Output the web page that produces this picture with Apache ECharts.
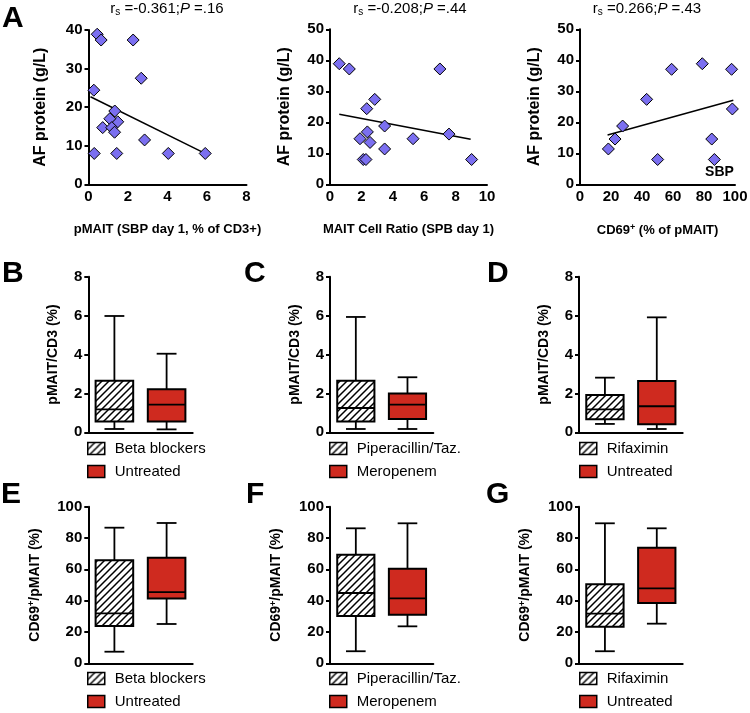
<!DOCTYPE html>
<html><head><meta charset="utf-8">
<script src="https://cdn.jsdelivr.net/npm/echarts@6/dist/echarts.min.js"></script>
<style>html,body{margin:0;padding:0;background:#fff}#c{width:750px;height:713px}</style>
</head><body><div id="c"></div>
<script>
// ---------- DATA ----------
// Panel A (scatter): AF protein vs x-variable
const a1X = [0.44,0.64,2.26,2.67,0.27,1.33,1.48,1.08,0.72,1.18,1.32,2.84,0.29,1.43,4.04,5.91];
const a1Y = [38.9,37.4,37.4,27.5,24.4,19.0,16.2,17.0,14.7,14.7,13.5,11.5,8.0,8.0,8.0,8.0];
const a1Fit = [[0.1,22.7],[5.9,8.0]];
const a2X = [0.59,1.23,7.0,2.85,2.34,3.48,2.38,7.58,1.91,5.29,2.55,3.48,2.12,2.29,9.02];
const a2Y = [38.9,37.2,37.2,27.4,24.4,18.8,16.9,16.2,14.7,14.7,13.5,11.4,8.0,8.0,8.0];
const a2Fit = [[0.59,22.6],[8.96,14.5]];
const a3X = [18.3,22.6,27.5,43.0,50.1,59.1,78.9,85.0,86.7,97.8,98.3];
const a3Y = [11.4,14.6,18.8,27.4,8.0,37.1,38.9,14.6,8.0,37.1,24.3];
const a3Fit = [[17.8,15.9],[98.9,27.1]];
const a3Note = {text:'SBP', x:90, y:4};
const statTexts = ['r{sub|s} =-0.361;{it|P} =.16','r{sub|s} =-0.208;{it|P} =.44','r{sub|s} =0.266;{it|P} =.43'];
const aXNames = ['pMAIT (SBP day 1, % of CD3+)','MAIT Cell Ratio (SPB day 1)','CD69{sup|+} (% of pMAIT)'];
const aYName = 'AF protein (g/L)';
const aXMax = [8,10,100], aXInt = [2,2,20], aYMax = [40,50,50];

// Box plots: [min, Q1, median, Q3, max]
const namesBE = ['Beta blockers','Untreated'];
const namesCF = ['Piperacillin/Taz.','Meropenem'];
const namesDG = ['Rifaximin','Untreated'];
const bVals = [[0.17,0.55,1.18,2.65,5.98],[0.15,0.55,1.42,2.21,4.04]];
const cVals = [[0.17,0.55,1.25,2.65,5.93],[0.17,0.68,1.42,2.00,2.83]];
const dVals = [[0.43,0.67,1.18,1.92,2.81],[0.17,0.41,1.34,2.64,5.91]];
const eVals = [[7.4,23.8,31.9,65.8,86.6],[25.1,41.3,45.5,67.4,89.6]];
const fVals = [[7.7,30.2,44.9,69.3,86.2],[23.6,31.0,41.5,60.4,89.4]];
const gVals = [[7.7,23.4,31.7,50.4,89.4],[25.3,38.5,47.9,73.8,86.2]];
const boxYName1 = 'pMAIT/CD3 (%)';
const boxYName2 = 'CD69{sup|+}/pMAIT (%)';
const panelLetters = ['A','B','C','D','E','F','G'];

// ---------- STYLE / LAYOUT ----------
const FONT = '"Liberation Sans", Arial, Helvetica, sans-serif';
const BLUE = '#7b6ff0';
const RED = '#cf2a1f';
function makeHatch(){
  const s = 7, c = document.createElement('canvas');
  c.width = s; c.height = s;
  const g = c.getContext('2d');
  g.fillStyle = '#fff'; g.fillRect(0,0,s,s);
  g.strokeStyle = '#000'; g.lineWidth = 1.5;
  g.beginPath();
  g.moveTo(0,s); g.lineTo(s,0);
  g.moveTo(-1,1); g.lineTo(1,-1);
  g.moveTo(s-1,s+1); g.lineTo(s+1,s-1);
  g.stroke();
  return {image:c, repeat:'repeat'};
}
const HATCH = makeHatch();
const FILLS = [HATCH, RED];

const richSub = {
  sub:{fontSize:10, verticalAlign:'bottom', fontFamily:FONT, color:'#000', padding:[6,0,0,0]},
  it:{fontStyle:'italic', fontSize:15, fontFamily:FONT, color:'#000'},
  sup:{fontSize:9, verticalAlign:'top', fontWeight:'bold', fontFamily:FONT, color:'#000', padding:[0,0,6,0]}
};

const scatterGrids = [
  {left:88.5, top:30, width:158, height:154.3},
  {left:330, top:29.3, width:157, height:155},
  {left:580, top:29.3, width:155, height:155}
];
const statCenters = [167, 410, 647];
const aYNameGap = [40,37,37];

const boxPanels = [
  {names:namesBE, vals:bVals, ymax:8, yint:2, yname:boxYName1, grid:{left:88.3, top:276.7, width:104.4, height:155.6}, legend:{left:87, top:441}, gap:28},
  {names:namesCF, vals:cVals, ymax:8, yint:2, yname:boxYName1, grid:{left:330, top:276.7, width:103.3, height:155.6}, legend:{left:329, top:441}, gap:28},
  {names:namesDG, vals:dVals, ymax:8, yint:2, yname:boxYName1, grid:{left:579, top:276.7, width:103.7, height:155.6}, legend:{left:579, top:441}, gap:28},
  {names:namesBE, vals:eVals, ymax:100, yint:20, yname:boxYName2, grid:{left:88.3, top:506.7, width:104.4, height:156.6}, legend:{left:87, top:671}, gap:46},
  {names:namesCF, vals:fVals, ymax:100, yint:20, yname:boxYName2, grid:{left:330, top:506.7, width:103.3, height:156.6}, legend:{left:329, top:671}, gap:46},
  {names:namesDG, vals:gVals, ymax:100, yint:20, yname:boxYName2, grid:{left:579, top:506.7, width:103.7, height:156.6}, legend:{left:579, top:671}, gap:46}
];
const letterPos = [[2,4],[2,259],[244,259],[487,259],[1,480],[246,480],[486,480]];

const axisLineStyle = {color:'#000', width:2};
const tickLabel = {fontSize:15, fontWeight:'bold', color:'#000', fontFamily:FONT};

// ---------- BUILD ----------
const grids = [], xAxes = [], yAxes = [], series = [], legends = [], titles = [];
const sx = [a1X,a2X,a3X], sy = [a1Y,a2Y,a3Y], fits = [a1Fit,a2Fit,a3Fit];

for (let i=0;i<3;i++){
  grids.push(Object.assign({outerBoundsMode:'none', containLabel:false}, scatterGrids[i]));
  xAxes.push({type:'value', gridIndex:i, min:0, max:aXMax[i], interval:aXInt[i],
    axisLine:{show:true, onZero:false, lineStyle:axisLineStyle}, axisTick:{show:false},
    axisLabel:Object.assign({margin:5}, tickLabel), splitLine:{show:false},
    name:aXNames[i], nameLocation:'middle', nameGap:39,
    nameTextStyle:{fontSize:13, fontWeight:'bold', color:'#000', fontFamily:FONT, rich:richSub}});
  yAxes.push({type:'value', gridIndex:i, min:0, max:aYMax[i], interval:10,
    axisLine:{show:true, onZero:false, lineStyle:axisLineStyle},
    axisTick:{show:true, length:4, lineStyle:{color:'#000', width:2}},
    axisLabel:Object.assign({margin:6}, tickLabel), splitLine:{show:false},
    name:aYName, nameLocation:'middle', nameGap:aYNameGap[i],
    nameTextStyle:{fontSize:16, fontWeight:'bold', color:'#000', fontFamily:FONT}});
  series.push({type:'line', xAxisIndex:i, yAxisIndex:i, data:fits[i], symbol:'none',
    lineStyle:{color:'#000', width:1.5}, z:2, silent:true});
  const sc = {type:'scatter', xAxisIndex:i, yAxisIndex:i, symbol:'diamond', symbolSize:12,
    itemStyle:{color:BLUE, borderColor:'#000', borderWidth:1, opacity:1},
    data:sx[i].map((v,k)=>[v, sy[i][k]]), z:3};
  if (i===2){
    sc.markPoint = {symbol:'circle', symbolSize:1, itemStyle:{color:'rgba(0,0,0,0)'},
      label:{show:true, position:'inside', formatter:a3Note.text, fontSize:14, fontWeight:'bold', color:'#000', fontFamily:FONT},
      data:[{coord:[a3Note.x, a3Note.y]}]};
  }
  series.push(sc);
  titles.push({text:statTexts[i], left:statCenters[i], textAlign:'center', top:1, padding:0,
    textStyle:{fontSize:15, fontWeight:'normal', color:'#000', fontFamily:FONT, rich:richSub}});
}

function makeBox(fill){
  return function(params, api){
    const ci = api.value(0);
    const mn = api.value(1), q1 = api.value(2), md = api.value(3), q3 = api.value(4), mx = api.value(5);
    const band = api.size([1,0])[0];
    const bw = band*0.72, cw = band*0.38;
    const cx = api.coord([ci, md])[0];
    const Y = v => api.coord([ci, v])[1];
    const ls = {stroke:'#000', lineWidth:1.8};
    return {type:'group', children:[
      {type:'line', shape:{x1:cx, y1:Y(mx), x2:cx, y2:Y(q3)}, style:ls},
      {type:'line', shape:{x1:cx, y1:Y(q1), x2:cx, y2:Y(mn)}, style:ls},
      {type:'line', shape:{x1:cx-cw/2, y1:Y(mx), x2:cx+cw/2, y2:Y(mx)}, style:ls},
      {type:'line', shape:{x1:cx-cw/2, y1:Y(mn), x2:cx+cw/2, y2:Y(mn)}, style:ls},
      {type:'rect', shape:{x:cx-bw/2, y:Y(q3), width:bw, height:Y(q1)-Y(q3)}, style:{fill:fill, stroke:'#000', lineWidth:2}},
      {type:'line', shape:{x1:cx-bw/2, y1:Y(md), x2:cx+bw/2, y2:Y(md)}, style:ls}
    ]};
  };
}

boxPanels.forEach((p, j)=>{
  const gi = 3 + j;
  grids.push(Object.assign({outerBoundsMode:'none', containLabel:false}, p.grid));
  xAxes.push({type:'category', gridIndex:gi, data:p.names, boundaryGap:true,
    axisLine:{show:true, onZero:false, lineStyle:axisLineStyle}, axisTick:{show:false}, axisLabel:{show:false}, splitLine:{show:false}});
  yAxes.push({type:'value', gridIndex:gi, min:0, max:p.ymax, interval:p.yint,
    axisLine:{show:true, onZero:false, lineStyle:axisLineStyle},
    axisTick:{show:true, length:4, lineStyle:{color:'#000', width:2}},
    axisLabel:Object.assign({margin:6}, tickLabel), splitLine:{show:false},
    name:p.yname, nameLocation:'middle', nameGap:p.gap,
    nameTextStyle:{fontSize:14, fontWeight:'bold', color:'#000', fontFamily:FONT, rich:richSub}});
  p.names.forEach((nm, k)=>{
    series.push({type:'custom', name:nm, xAxisIndex:gi, yAxisIndex:gi,
      data:[[k].concat(p.vals[k])], encode:{x:0, y:[1,2,3,4,5]},
      itemStyle:{color:FILLS[k]}, renderItem:makeBox(FILLS[k]), z:3, silent:true});
  });
  legends.push({orient:'vertical', left:p.legend.left, top:p.legend.top, padding:0,
    itemWidth:17, itemHeight:12, itemGap:8, icon:'rect', selectedMode:false,
    textStyle:{fontSize:15, color:'#000', fontFamily:FONT, padding:[0,0,0,5]},
    data:p.names.map((nm,k)=>({name:nm, icon:'rect', itemStyle:{color:FILLS[k], borderColor:'#000', borderWidth:1.5}}))});
});

panelLetters.forEach((L, k)=>{
  titles.push({text:L, left:letterPos[k][0], top:letterPos[k][1], padding:0,
    textStyle:{fontSize:30, fontWeight:'bold', color:'#000', fontFamily:FONT}});
});

const option = {
  backgroundColor:'#fff',
  animation:false,
  title:titles,
  legend:legends,
  grid:grids,
  xAxis:xAxes,
  yAxis:yAxes,
  series:series
};
const chart = echarts.init(document.getElementById('c'), null, {renderer:'canvas'});
chart.setOption(option);
</script>
</body></html>
